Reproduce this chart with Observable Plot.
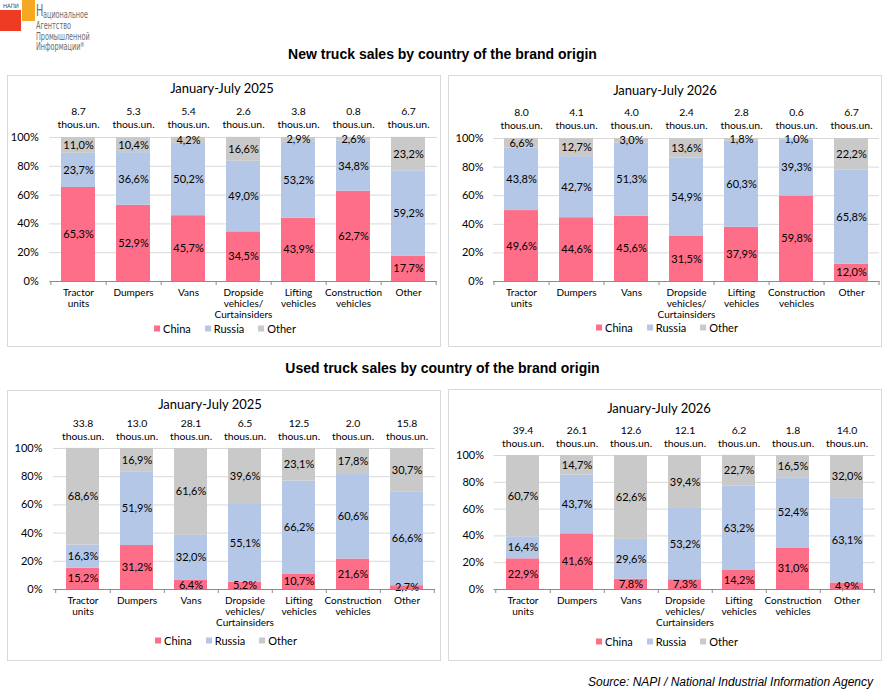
<!DOCTYPE html>
<html>
<head>
<meta charset="utf-8">
<script src="https://cdn.jsdelivr.net/npm/d3@7"></script>
<script src="https://cdn.jsdelivr.net/npm/@observablehq/plot@0.6"></script>
<style>
  body { margin: 0; width: 885px; height: 693px; position: relative; background: #fff; overflow: hidden; font-family: Lato, sans-serif; }
  .abs { position: absolute; }
  .logo { position: absolute; font-family: 'DejaVu Sans Condensed','Liberation Sans Narrow',sans-serif; color: #6b6b6b; transform: scaleX(0.72); transform-origin: 0 0; white-space: nowrap; }
  .panel { position: absolute; border: 1px solid #d9d9d9; box-sizing: border-box; }
  .ptitle { position: absolute; transform: translate(-50%, -50%); font: 13px Lato, sans-serif; color: #000; white-space: nowrap; }
  .legend { position: absolute; transform: translate(-50%, -50%); display: flex; align-items: center; font: 11px Lato, sans-serif; color: #000; white-space: nowrap; }
  .legend .sw { width: 6px; height: 6px; margin-right: 3px; }
  .legend .it { display: flex; align-items: center; margin-right: 14px; }
  .legend .it:last-child { margin-right: 0; }
  .main { position: absolute; left: 0; width: 885px; text-align: center; font: bold 14px "Liberation Sans", Arial, sans-serif; color: #000; }
  svg.plot { position: absolute; }
</style>
</head>
<body>
<!-- logo -->
<div class="abs" style="left:0;top:10px;width:21px;height:21px;background:#ee3b24"></div>
<div class="abs" style="left:22px;top:0;width:13px;height:21px;background:#f7a823"></div>
<div class="abs" style="left:3px;top:2px;font:6px 'DejaVu Sans Condensed',sans-serif;color:#444">НАПИ</div>
<div class="logo" style="left:36px;top:4px;font-size:15px;line-height:15px">Н</div>
<div class="logo" style="left:43px;top:10px;font-size:10px;line-height:10.5px">ациональное</div>
<div class="logo" style="left:36px;top:21px;font-size:10px;line-height:10.5px">Агентство<br>Промышленной</div>
<div class="logo" style="left:36px;top:42px;font-size:10px;line-height:10.5px">Информации</div>
<div class="logo" style="left:80px;top:42px;font-size:7px;line-height:7px">®</div>

<div class="main" style="top:46px">New truck sales by country of the brand origin</div>
<div class="main" style="top:360px">Used truck sales by country of the brand origin</div>
<div class="abs" style="right:12px;top:675px;font:italic 12px 'Liberation Sans',Arial,sans-serif;color:#000">Source: NAPI / National Industrial Information Agency</div>

<div id="root"></div>

<script>
// ---------- data ----------
const categories = ["Tractor units", "Dumpers", "Vans", "Dropside vehicles/ Curtainsiders", "Lifting vehicles", "Construction vehicles", "Other"];
const categoryLabels = ["Tractor\nunits", "Dumpers", "Vans", "Dropside\nvehicles/\nCurtainsiders", "Lifting\nvehicles", "Construction\nvehicles", "Other"];
const origins = ["China", "Russia", "Other"];
const yTicks = [0, 20, 40, 60, 80, 100];
const unitLabel = "thous.un.";

const new2025China  = [65.3, 52.9, 45.7, 34.5, 43.9, 62.7, 17.7];
const new2025Russia = [23.7, 36.6, 50.2, 49.0, 53.2, 34.8, 59.2];
const new2025Other  = [11.0, 10.4, 4.2, 16.6, 2.9, 2.6, 23.2];
const new2025Totals = [8.7, 5.3, 5.4, 2.6, 3.8, 0.8, 6.7];

const new2026China  = [49.6, 44.6, 45.6, 31.5, 37.9, 59.8, 12.0];
const new2026Russia = [43.8, 42.7, 51.3, 54.9, 60.3, 39.3, 65.8];
const new2026Other  = [6.6, 12.7, 3.0, 13.6, 1.8, 1.0, 22.2];
const new2026Totals = [8.0, 4.1, 4.0, 2.4, 2.8, 0.6, 6.7];

const used2025China  = [15.2, 31.2, 6.4, 5.2, 10.7, 21.6, 2.7];
const used2025Russia = [16.3, 51.9, 32.0, 55.1, 66.2, 60.6, 66.6];
const used2025Other  = [68.6, 16.9, 61.6, 39.6, 23.1, 17.8, 30.7];
const used2025Totals = [33.8, 13.0, 28.1, 6.5, 12.5, 2.0, 15.8];

const used2026China  = [22.9, 41.6, 7.8, 7.3, 14.2, 31.0, 4.9];
const used2026Russia = [16.4, 43.7, 29.6, 53.2, 63.2, 52.4, 63.1];
const used2026Other  = [60.7, 14.7, 62.6, 39.4, 22.7, 16.5, 32.0];
const used2026Totals = [39.4, 26.1, 12.6, 12.1, 6.2, 1.8, 14.0];

const colors = ["#ff6e88", "#b4c7e7", "#c9c9c9"];

// ---------- layout ----------
const panels = [
  {title: "January-July 2025", series: [new2025China, new2025Russia, new2025Other], totals: new2025Totals,
   left: 7, top: 75, w: 434, h: 272, xL: 49.3, xR: 436.7, yT: 137, yB: 281, tx: 222, ty: 88, lx: 225, ly: 328, gap: 11, tdy: -10},
  {title: "January-July 2026", series: [new2026China, new2026Russia, new2026Other], totals: new2026Totals,
   left: 448, top: 75, w: 434, h: 272, xL: 493, xR: 879, yT: 138, yB: 281, tx: 665, ty: 90, lx: 667, ly: 327, gap: 10, tdy: -10},
  {title: "January-July 2025", series: [used2025China, used2025Russia, used2025Other], totals: used2025Totals,
   left: 7, top: 390, w: 434, h: 271, xL: 53, xR: 435, yT: 448, yB: 589, tx: 210, ty: 404, lx: 226, ly: 640, gap: 11, tdy: -9},
  {title: "January-July 2026", series: [used2026China, used2026Russia, used2026Other], totals: used2026Totals,
   left: 448, top: 389, w: 434, h: 272, xL: 493.5, xR: 875, yT: 455, yB: 589, tx: 659, ty: 408, lx: 667, ly: 641, gap: 10, tdy: -9}
];

const fmtPct = v => v.toFixed(1).replace(".", ",") + "%";
const root = document.getElementById("root");

for (const cfg of panels) {
  const box = document.createElement("div");
  box.className = "panel";
  Object.assign(box.style, {left: cfg.left + "px", top: cfg.top + "px", width: cfg.w + "px", height: cfg.h + "px"});
  root.appendChild(box);

  const rows = [];
  origins.forEach((o, i) => categories.forEach((c, j) => rows.push({cat: c, origin: o, value: cfg.series[i][j]})));
  const totalRows = categories.map((c, j) => ({cat: c, total: cfg.totals[j]}));

  const ox = cfg.left + 1, oy = cfg.top + 1, sw = cfg.w - 2, sh = cfg.h - 2;
  const step = (cfg.xR - cfg.xL) / categories.length;

  const svg = Plot.plot({
    width: sw, height: sh,
    marginLeft: cfg.xL - ox, marginRight: ox + sw - cfg.xR,
    marginTop: cfg.yT - oy, marginBottom: oy + sh - cfg.yB,
    style: {fontFamily: "Lato, sans-serif", fontSize: "11px", color: "#000", background: "transparent", overflow: "visible"},
    x: {domain: categories, paddingInner: 0.39, paddingOuter: 0.195, label: null},
    y: {domain: [0, 100], label: null},
    color: {domain: origins, range: colors},
    marks: [
      Plot.gridY(yTicks, {stroke: "#d9d9d9", strokeOpacity: 1}),
      Plot.barY(rows, {x: "cat", y: "value", fill: "origin"}),
      Plot.text(rows, Plot.stackY({x: "cat", y: "value", text: d => fmtPct(d.value), fill: "#000", fontSize: 11})),
      Plot.ruleY([0], {stroke: "#8c8c8c"}),
      Plot.axisY(yTicks, {tickSize: 0, tickPadding: cfg.gap, tickFormat: d => d + "%", fontSize: 11, fill: "#000", label: null}),
      Plot.axisX(categories, {tickSize: 0, tickPadding: 7, tickFormat: d => categoryLabels[categories.indexOf(d)], fontSize: 10, lineHeight: 1.1, fill: "#000", label: null}),
      Plot.axisX(categories, {tickSize: 4, tickFormat: () => "", dx: step / 2, stroke: "#8c8c8c", label: null}),
      Plot.axisX([categories[0]], {tickSize: 4, tickFormat: () => "", dx: -step / 2, stroke: "#8c8c8c", label: null}),
      Plot.text(totalRows, {x: "cat", frameAnchor: "top", lineAnchor: "bottom", dy: cfg.tdy, lineHeight: 1.25, fontSize: 10.4, fill: "#000",
        text: d => d.total.toFixed(1) + "\n" + unitLabel})
    ]
  });
  svg.classList.add("plot");
  svg.style.left = ox + "px";
  svg.style.top = oy + "px";
  root.appendChild(svg);

  const t = document.createElement("div");
  t.className = "ptitle";
  t.style.left = cfg.tx + "px"; t.style.top = cfg.ty + "px";
  t.textContent = cfg.title;
  root.appendChild(t);

  const lg = document.createElement("div");
  lg.className = "legend";
  lg.style.left = cfg.lx + "px"; lg.style.top = cfg.ly + "px";
  origins.forEach((o, i) => {
    const it = document.createElement("div"); it.className = "it";
    const s = document.createElement("div"); s.className = "sw"; s.style.background = colors[i];
    const tx = document.createElement("span"); tx.textContent = o;
    it.appendChild(s); it.appendChild(tx); lg.appendChild(it);
  });
  root.appendChild(lg);
}
</script>
</body>
</html>
